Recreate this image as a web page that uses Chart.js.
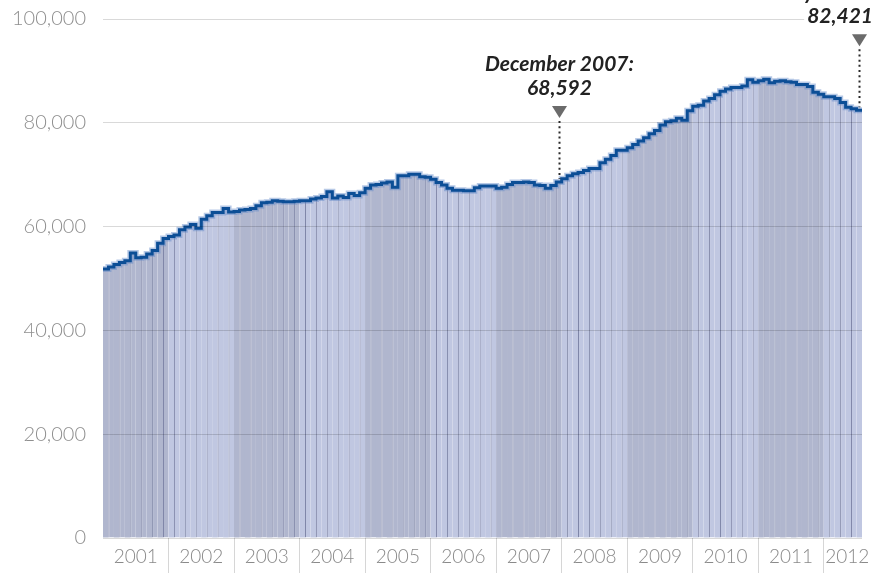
<!DOCTYPE html>
<html>
<head>
<meta charset="utf-8">
<script src="https://cdn.jsdelivr.net/npm/chart.js@4/dist/chart.umd.min.js"></script>
<style>
  html, body { margin: 0; padding: 0; background: #fff; }
  #wrap { width: 874px; height: 573px; }
</style>
</head>
<body>
<div id="wrap"><canvas id="chart" width="874" height="573"></canvas></div>
<script>
// Monthly values, Jan..Dec, one array per year
const y2001 = [51830, 52200, 52700, 53100, 53400, 54900, 54000, 54100, 54700, 55400, 56800, 57700];
const y2002 = [58100, 58400, 59400, 59900, 60400, 59700, 61400, 62100, 62700, 62700, 63500, 62800];
const y2003 = [62900, 63200, 63300, 63500, 64000, 64600, 64700, 65000, 64900, 64800, 64800, 64900];
const y2004 = [65000, 65000, 65300, 65500, 65800, 66700, 65500, 65900, 65600, 66400, 66000, 66500];
const y2005 = [67400, 68000, 68100, 68400, 68600, 67600, 69800, 69800, 70100, 70100, 69600, 69500];
const y2006 = [69100, 68500, 68000, 67400, 67000, 67000, 66900, 66900, 67500, 67800, 67800, 67800];
const y2007 = [67400, 67600, 68100, 68500, 68500, 68600, 68500, 68000, 67900, 67400, 67900, 68592];
const y2008 = [69200, 69800, 70200, 70400, 70800, 71200, 71200, 72300, 73000, 73700, 74700, 74700];
const y2009 = [75200, 75800, 76500, 77100, 77900, 78500, 79600, 80200, 80400, 80900, 80500, 82300];
const y2010 = [83200, 83400, 84200, 84700, 85400, 86100, 86500, 86800, 86800, 87100, 88300, 87800];
const y2011 = [88100, 88400, 87700, 88000, 88100, 87900, 87800, 87400, 87400, 87000, 85900, 85500];
const y2012 = [85000, 85000, 84700, 83900, 83000, 82700, 82421];

const years = ['2001', '2002', '2003', '2004', '2005', '2006', '2007', '2008', '2009', '2010', '2011', '2012'];
const yTicks = [0, 20000, 40000, 60000, 80000, 100000];

// callouts: title and month index (0 = Jan 2001)
const calloutTitles = ['December 2007:', 'July 2012:'];
const calloutMonths = [83, 138];

const values = [].concat(y2001, y2002, y2003, y2004, y2005, y2006, y2007, y2008, y2009, y2010, y2011, y2012);
const n = values.length;

// x ticks: year boundaries (dividers) and year centres (labels)
const yearStarts = years.map((y, i) => i * 12).filter(v => v > 0);
const yearCentres = years.map((y, i) => i < years.length - 1 ? i * 12 + 6 : 136.3);
const xTicks = yearStarts.concat(yearCentres).sort((a, b) => a - b);

const darkBar = '#b0b6ce';
const lightBar = '#c0c7e1';

const barData = values.map((v, i) => ({ x: i + 0.5, y: v }));
const stepData = values.map((v, i) => ({ x: i, y: v }));
stepData.push({ x: n, y: values[n - 1] });

// callout labels, dotted leader and triangle
const calloutPlugin = {
  id: 'callouts',
  afterDraw(chart) {
    const c = chart.ctx;
    const xs = chart.scales.x, ys = chart.scales.y;
    c.save();
    calloutTitles.forEach((title, k) => {
      const m = calloutMonths[k];
      const cx = Math.round(xs.getPixelForValue(m + 0.5)) + 0.5;
      const top = ys.getPixelForValue(values[m]);
      const triBottom = top - 64;
      const triTop = triBottom - 12;
      // dotted line
      c.strokeStyle = '#2a2a2a';
      c.lineWidth = 2;
      c.setLineDash([2, 3.2]);
      c.beginPath();
      c.moveTo(cx, triBottom + 3);
      c.lineTo(cx, top - 3);
      c.stroke();
      c.setLineDash([]);
      // triangle
      c.fillStyle = '#6b6b6b';
      c.beginPath();
      c.moveTo(cx - 7.5, triTop);
      c.lineTo(cx + 7.5, triTop);
      c.lineTo(cx, triBottom);
      c.closePath();
      c.fill();
      // text
      c.font = 'italic bold 21px Lato, "Open Sans", sans-serif';
      c.textBaseline = 'middle';
      c.textAlign = 'center';
      const valText = values[m].toLocaleString('en-US');
      const lines = [[title, triTop - 42], [valText, triTop - 18]];
      lines.forEach(([t, ty]) => {
        const w = c.measureText(t).width;
        let tx = cx;
        if (tx + w / 2 > chart.width - 1) tx = chart.width - 1 - w / 2;
        c.fillStyle = '#fff';
        c.fillRect(tx - w / 2 - 3, ty - 11, w + 6, 22);
        c.fillStyle = '#222';
        c.fillText(t, tx, ty);
      });
    });
    c.restore();
  }
};

new Chart(document.getElementById('chart'), {
  type: 'bar',
  data: {
    datasets: [
      {
        type: 'line',
        data: stepData,
        stepped: true,
        borderColor: '#0c4e96',
        borderWidth: 3,
        borderJoinStyle: 'miter',
        pointRadius: 0,
        fill: false,
        order: 0
      },
      {
        type: 'line',
        data: stepData,
        stepped: true,
        borderColor: 'rgba(95,135,200,0.45)',
        borderWidth: 6,
        pointRadius: 0,
        fill: false,
        order: 1
      },
      {
        type: 'bar',
        data: barData,
        backgroundColor: ctx => Math.floor(ctx.dataIndex / 12) % 2 === 0 ? darkBar : lightBar,
        borderColor: '#7f86a8',
        borderWidth: ctx => ctx.dataIndex % 2 === 1 ? { left: 1, top: 0, right: 0, bottom: 0 } : 0,
        borderSkipped: false,
        barPercentage: 1.02,
        categoryPercentage: 1,
        order: 2
      }
    ]
  },
  options: {
    responsive: false,
    animation: false,
    layout: { padding: { top: 19, right: 12, left: 0, bottom: 0 } },
    plugins: { legend: { display: false }, tooltip: { enabled: false } },
    scales: {
      x: {
        type: 'linear',
        min: 0,
        max: n,
        offset: false,
        afterBuildTicks: s => { s.ticks = xTicks.map(v => ({ value: v })); },
        afterFit: s => { s.height = 35; s.paddingLeft = 0; s.paddingRight = 0; },
        grid: {
          offset: false,
          drawOnChartArea: false,
          tickLength: 35,
          color: ctx => (ctx.tick && yearStarts.includes(ctx.tick.value)) ? '#d6d6d6' : 'rgba(0,0,0,0)'
        },
        border: { display: false },
        ticks: {
          autoSkip: false,
          maxRotation: 0,
          padding: -28,
          color: '#8a8a8a',
          font: { family: 'Lato', size: 19, weight: '300' },
          callback: v => {
            const i = yearCentres.indexOf(v);
            return i >= 0 ? years[i] : '';
          }
        }
      },
      y: {
        min: 0,
        max: 100000,
        afterBuildTicks: s => { s.ticks = yTicks.map(v => ({ value: v })); },
        afterFit: s => { s.width = 103; s.paddingTop = 0; s.paddingBottom = 0; },
        grid: { color: 'rgba(0,0,0,0.15)', drawTicks: false, z: 1 },
        border: { display: false },
        ticks: {
          padding: 17,
          color: '#8f8f8f',
          font: { family: 'Lato', size: 20, weight: '300' },
          callback: v => v.toLocaleString('en-US')
        }
      }
    }
  },
  plugins: [calloutPlugin]
});
</script>
</body>
</html>
